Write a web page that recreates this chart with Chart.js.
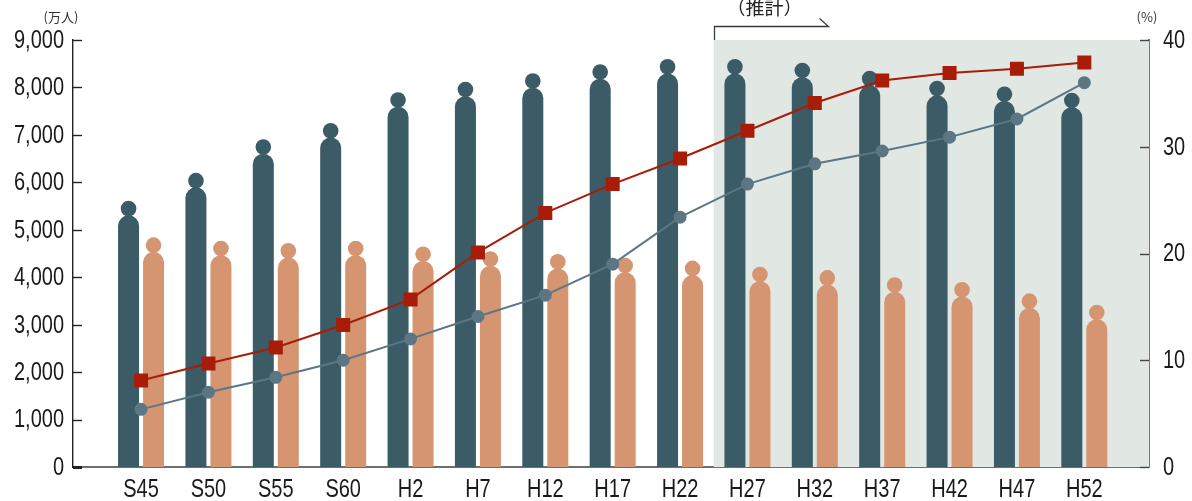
<!DOCTYPE html>
<html>
<head>
<meta charset="utf-8">
<script src="https://cdn.jsdelivr.net/npm/chart.js@4/dist/chart.umd.min.js"></script>
<style>
  html, body { margin: 0; padding: 0; background: #ffffff; }
  #wrap { width: 1192px; height: 501px; position: relative; }
</style>
</head>
<body>
<div id="wrap"><canvas id="c"></canvas></div>
<script>
// Survey years (Showa / Heisei)
const categories = ['S45','S50','S55','S60','H2','H7','H12','H17','H22','H27','H32','H37','H42','H47','H52'];
// Population bars, 万人 (left axis)
const popDark   = [5610, 6200, 6910, 7250, 7900, 8120, 8300, 8490, 8600, 8600, 8520, 8350, 8140, 8020, 7890];
const popOrange = [4840, 4770, 4720, 4770, 4650, 4550, 4490, 4410, 4350, 4220, 4150, 4000, 3900, 3660, 3420];
// Rates, % (right axis)
const rateRed  = [8.1, 9.7, 11.2, 13.3, 15.7, 20.1, 23.8, 26.5, 28.9, 31.5, 34.1, 36.2, 36.9, 37.3, 37.9];
const rateBlue = [5.4, 7.0, 8.4, 10.0, 12.0, 14.1, 16.1, 19.0, 23.4, 26.5, 28.4, 29.6, 30.9, 32.6, 36.0];
// Left and right axis tick values
const leftTicks  = [0, 1000, 2000, 3000, 4000, 5000, 6000, 7000, 8000, 9000];
const rightTicks = [0, 10, 20, 30, 40];
// Projection section starts between these two categories
const projectionFrom = 8.5;
const projectionLabel = '（推計）';

const FONT = '"Liberation Sans", Arial, sans-serif';
const CJK = '"Noto Sans CJK JP", "Noto Sans", sans-serif';
const SQUEEZE = 0.8;   // horizontal compression for a condensed look

const pts = arr => arr.map((v, i) => ({ x: i, y: v }));

// Draws each bar as a person figure: round head above a round-shouldered body
const personBars = {
  id: 'personBars',
  beforeDatasetDraw(chart, args) {
    const meta = args.meta;
    if (meta.type !== 'bar') return;
    const ctx = chart.ctx;
    const color = chart.data.datasets[args.index].backgroundColor;
    const area = chart.chartArea;
    ctx.save();
    ctx.beginPath();
    ctx.rect(area.left, area.top - 20, area.right - area.left, area.bottom - area.top + 20);
    ctx.clip();
    ctx.fillStyle = color;
    meta.data.forEach(el => {
      const p = el.getProps(['x', 'y', 'base'], true);
      const cx = p.x, top = p.y, base = p.base;
      const r = 10.5, hr = 7.8;
      ctx.beginPath();
      ctx.arc(cx, top + hr, hr, 0, Math.PI * 2);
      ctx.fill();
      const bodyTop = top + 14.5;
      ctx.beginPath();
      ctx.moveTo(cx - r, base + 2);
      ctx.lineTo(cx - r, bodyTop + r);
      ctx.arc(cx, bodyTop + r, r, Math.PI, 0);
      ctx.lineTo(cx + r, base + 2);
      ctx.closePath();
      ctx.fill();
    });
    ctx.restore();
    return false;
  }
};

// Condensed tick labels placed from the chart's own scales
function squeezedText(ctx, text, x, y, align) {
  ctx.save();
  ctx.translate(x, y);
  ctx.scale(SQUEEZE, 1);
  ctx.textAlign = align;
  ctx.fillText(text, 0, 0);
  ctx.restore();
}

const axisLabels = {
  id: 'axisLabels',
  afterDraw(chart) {
    const { ctx, scales } = chart;
    const { x, y, y2 } = scales;
    ctx.save();
    ctx.fillStyle = '#1a1a1a';
    ctx.font = '25px ' + FONT;
    ctx.textBaseline = 'middle';
    leftTicks.forEach(v => {
      squeezedText(ctx, v.toLocaleString('en-US'), y.right - 9, y.getPixelForValue(v) + 1, 'right');
    });
    rightTicks.forEach(v => {
      squeezedText(ctx, String(v), y2.left + 14, y2.getPixelForValue(v) + 1, 'left');
    });
    categories.forEach((c, i) => {
      squeezedText(ctx, c, x.getPixelForValue(i), x.top + 23, 'center');
    });
    ctx.restore();
  }
};

// Shaded projection band behind the marks
const projectionBand = {
  id: 'projectionBand',
  beforeDatasetsDraw(chart) {
    const { ctx, chartArea: a, scales } = chart;
    const x0 = scales.x.getPixelForValue(projectionFrom);
    ctx.save();
    ctx.fillStyle = '#e1e7e2';
    ctx.fillRect(x0, a.top, a.right - x0, a.bottom - a.top);
    ctx.restore();
  },
  afterDraw(chart) {
    const { ctx, chartArea: a, scales } = chart;
    const x0 = Math.round(scales.x.getPixelForValue(projectionFrom)) + 0.5;
    const x1 = x0 + 114;
    const yb = 26.5;
    ctx.save();
    ctx.strokeStyle = '#3a3a3a';
    ctx.lineWidth = 1.3;
    ctx.beginPath();
    ctx.moveTo(x0, a.top);
    ctx.lineTo(x0, yb);
    ctx.lineTo(x1, yb);
    ctx.lineTo(x1 - 9, yb - 8);
    ctx.stroke();
    ctx.fillStyle = '#222';
    ctx.font = '19px ' + CJK;
    ctx.textAlign = 'center';
    ctx.textBaseline = 'alphabetic';
    ctx.fillText(projectionLabel, x0 + 50, 15);

    // unit captions
    ctx.font = '13px ' + CJK;
    ctx.fillStyle = '#333';
    ctx.textBaseline = 'middle';
    ctx.fillText('(万人)', 61, 17);
    ctx.fillText('(%)', 1147, 17);

    // inward tick marks
    const y = scales.y, y2 = scales.y2;
    ctx.strokeStyle = '#222';
    leftTicks.forEach(v => {
      const py = Math.round(y.getPixelForValue(v)) + 0.5;
      ctx.lineWidth = v === 0 ? 3 : 1.4;
      ctx.beginPath();
      ctx.moveTo(a.left, py);
      ctx.lineTo(a.left + 9, py);
      ctx.stroke();
    });
    ctx.strokeStyle = '#444';
    ctx.lineWidth = 1.4;
    rightTicks.forEach(v => {
      const py = Math.round(y2.getPixelForValue(v)) + 0.5;
      ctx.beginPath();
      ctx.moveTo(a.right - 9, py);
      ctx.lineTo(a.right, py);
      ctx.stroke();
    });
    ctx.restore();
  }
};

new Chart(document.getElementById('c'), {
  type: 'bar',
  data: {
    datasets: [
      {
        type: 'line', data: pts(rateRed), yAxisID: 'y2', order: 0,
        borderColor: '#a81c08', backgroundColor: '#a81c08', borderWidth: 2,
        pointStyle: 'rect', pointRadius: 8.5, pointHoverRadius: 8.5, tension: 0
      },
      {
        type: 'line', data: pts(rateBlue), yAxisID: 'y2', order: 1,
        borderColor: '#5c7684', backgroundColor: '#5c7684', borderWidth: 2,
        pointStyle: 'circle', pointRadius: 5.5, pointHoverRadius: 5.5, tension: 0
      },
      { data: pts(popDark), yAxisID: 'y', order: 2, backgroundColor: '#3b5c66', barThickness: 25 },
      { data: pts(popOrange), yAxisID: 'y', order: 3, backgroundColor: '#d59571', barThickness: 25 }
    ]
  },
  options: {
    responsive: true,
    maintainAspectRatio: false,
    animation: false,
    events: [],
    layout: { padding: { top: 40, left: 0, right: 0, bottom: 0 } },
    plugins: { legend: { display: false }, tooltip: { enabled: false } },
    scales: {
      x: {
        type: 'linear',
        offset: false,
        min: -1.01,
        max: 14.96,
        grid: { display: false, drawTicks: false },
        border: { display: true, color: '#6e6e6e', width: 2 },
        afterBuildTicks: s => { s.ticks = categories.map((_, i) => ({ value: i })); },
        afterFit: s => { s.height = 34; },
        ticks: { display: false }
      },
      y: {
        position: 'left',
        min: 0, max: 9000,
        grid: { display: false, drawTicks: false },
        border: { display: true, color: '#222', width: 1.4 },
        afterBuildTicks: s => { s.ticks = leftTicks.map(v => ({ value: v })); },
        afterFit: s => { s.width = 73; },
        ticks: { display: false }
      },
      y2: {
        position: 'right',
        min: 0, max: 40,
        grid: { display: false, drawTicks: false },
        border: { display: true, color: '#777', width: 2 },
        afterBuildTicks: s => { s.ticks = rightTicks.map(v => ({ value: v })); },
        afterFit: s => { s.width = 43; },
        ticks: { display: false }
      }
    }
  },
  plugins: [projectionBand, personBars, axisLabels]
});
</script>
</body>
</html>
